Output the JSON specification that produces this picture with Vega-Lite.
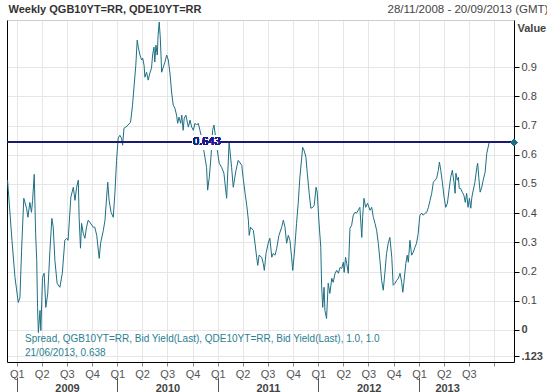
{
  "$schema": "https://vega.github.io/schema/vega-lite/v6.json",
  "autosize": {"type": "none"},
  "width": 507,
  "height": 342,
  "padding": {"left": 7, "top": 20, "right": 33, "bottom": 30},
  "background": "#ffffff",
  "config": {
    "view": {"stroke": null},
    "font": "Liberation Sans",
    "axis": {"labelFont": "Liberation Sans", "titleFont": "Liberation Sans"}
  },
  "data": {
    "values": [
      {"d": "2008-11-28", "v": 0.513}, {"d": "2008-12-14", "v": 0.307}, {"d": "2008-12-25", "v": 0.180},
      {"d": "2009-01-06", "v": 0.094}, {"d": "2009-01-12", "v": 0.111}, {"d": "2009-01-18", "v": 0.273},
      {"d": "2009-01-26", "v": 0.451}, {"d": "2009-02-05", "v": 0.417}, {"d": "2009-02-10", "v": 0.386},
      {"d": "2009-02-17", "v": 0.437}, {"d": "2009-02-23", "v": 0.403}, {"d": "2009-02-27", "v": 0.444},
      {"d": "2009-03-05", "v": 0.533}, {"d": "2009-03-10", "v": 0.331}, {"d": "2009-03-14", "v": 0.238},
      {"d": "2009-03-17", "v": 0.077}, {"d": "2009-03-20", "v": -0.009}, {"d": "2009-03-26", "v": 0.067},
      {"d": "2009-03-29", "v": -0.002}, {"d": "2009-04-04", "v": 0.180}, {"d": "2009-04-10", "v": 0.194},
      {"d": "2009-04-16", "v": 0.077}, {"d": "2009-04-23", "v": 0.125}, {"d": "2009-05-01", "v": 0.273},
      {"d": "2009-05-08", "v": 0.382}, {"d": "2009-05-13", "v": 0.352}, {"d": "2009-05-19", "v": 0.238},
      {"d": "2009-05-27", "v": 0.160}, {"d": "2009-06-06", "v": 0.146}, {"d": "2009-06-15", "v": 0.194},
      {"d": "2009-06-24", "v": 0.307}, {"d": "2009-07-01", "v": 0.314}, {"d": "2009-07-06", "v": 0.307},
      {"d": "2009-07-16", "v": 0.455}, {"d": "2009-07-25", "v": 0.489}, {"d": "2009-07-31", "v": 0.444},
      {"d": "2009-08-06", "v": 0.489}, {"d": "2009-08-12", "v": 0.513}, {"d": "2009-08-15", "v": 0.386},
      {"d": "2009-08-20", "v": 0.280}, {"d": "2009-08-24", "v": 0.365}, {"d": "2009-08-30", "v": 0.331},
      {"d": "2009-09-05", "v": 0.314}, {"d": "2009-09-11", "v": 0.352}, {"d": "2009-09-17", "v": 0.376},
      {"d": "2009-09-23", "v": 0.369}, {"d": "2009-10-05", "v": 0.352}, {"d": "2009-10-11", "v": 0.352},
      {"d": "2009-10-18", "v": 0.324}, {"d": "2009-10-27", "v": 0.245}, {"d": "2009-11-01", "v": 0.297},
      {"d": "2009-11-11", "v": 0.341}, {"d": "2009-11-17", "v": 0.376}, {"d": "2009-11-23", "v": 0.455},
      {"d": "2009-11-27", "v": 0.506}, {"d": "2009-12-02", "v": 0.444}, {"d": "2009-12-09", "v": 0.403},
      {"d": "2009-12-17", "v": 0.386}, {"d": "2009-12-23", "v": 0.468}, {"d": "2009-12-29", "v": 0.581},
      {"d": "2010-01-04", "v": 0.657}, {"d": "2010-01-10", "v": 0.667}, {"d": "2010-01-16", "v": 0.657},
      {"d": "2010-01-20", "v": 0.633}, {"d": "2010-01-25", "v": 0.691}, {"d": "2010-02-01", "v": 0.695},
      {"d": "2010-02-09", "v": 0.702}, {"d": "2010-02-18", "v": 0.712}, {"d": "2010-02-25", "v": 0.770},
      {"d": "2010-03-03", "v": 0.839}, {"d": "2010-03-09", "v": 0.907}, {"d": "2010-03-14", "v": 0.993},
      {"d": "2010-03-18", "v": 0.969}, {"d": "2010-03-24", "v": 0.942}, {"d": "2010-03-30", "v": 0.925},
      {"d": "2010-04-03", "v": 0.931}, {"d": "2010-04-08", "v": 0.907}, {"d": "2010-04-11", "v": 0.866},
      {"d": "2010-04-17", "v": 0.883}, {"d": "2010-04-23", "v": 0.856}, {"d": "2010-04-29", "v": 0.880},
      {"d": "2010-05-05", "v": 0.897}, {"d": "2010-05-09", "v": 0.942}, {"d": "2010-05-14", "v": 0.969},
      {"d": "2010-05-17", "v": 0.918}, {"d": "2010-05-21", "v": 0.976}, {"d": "2010-05-26", "v": 0.942},
      {"d": "2010-05-29", "v": 1.010}, {"d": "2010-06-02", "v": 1.055}, {"d": "2010-06-06", "v": 1.000},
      {"d": "2010-06-11", "v": 0.883}, {"d": "2010-06-17", "v": 0.901}, {"d": "2010-06-23", "v": 0.918},
      {"d": "2010-06-29", "v": 0.942}, {"d": "2010-07-05", "v": 0.925}, {"d": "2010-07-11", "v": 0.880},
      {"d": "2010-07-17", "v": 0.815}, {"d": "2010-07-23", "v": 0.770}, {"d": "2010-07-29", "v": 0.760},
      {"d": "2010-08-04", "v": 0.736}, {"d": "2010-08-08", "v": 0.708}, {"d": "2010-08-13", "v": 0.729},
      {"d": "2010-08-19", "v": 0.708}, {"d": "2010-08-23", "v": 0.736}, {"d": "2010-08-28", "v": 0.684},
      {"d": "2010-09-01", "v": 0.726}, {"d": "2010-09-07", "v": 0.736}, {"d": "2010-09-12", "v": 0.712},
      {"d": "2010-09-16", "v": 0.695}, {"d": "2010-09-22", "v": 0.719}, {"d": "2010-09-28", "v": 0.695},
      {"d": "2010-10-04", "v": 0.684}, {"d": "2010-10-10", "v": 0.708}, {"d": "2010-10-16", "v": 0.702},
      {"d": "2010-10-22", "v": 0.708}, {"d": "2010-10-28", "v": 0.684}, {"d": "2010-11-03", "v": 0.660},
      {"d": "2010-11-09", "v": 0.626}, {"d": "2010-11-15", "v": 0.592}, {"d": "2010-11-21", "v": 0.557},
      {"d": "2010-11-25", "v": 0.479}, {"d": "2010-12-01", "v": 0.523}, {"d": "2010-12-07", "v": 0.592},
      {"d": "2010-12-13", "v": 0.684}, {"d": "2010-12-18", "v": 0.702}, {"d": "2010-12-24", "v": 0.660},
      {"d": "2010-12-30", "v": 0.616}, {"d": "2011-01-06", "v": 0.571}, {"d": "2011-01-15", "v": 0.557},
      {"d": "2011-01-23", "v": 0.537}, {"d": "2011-02-02", "v": 0.451}, {"d": "2011-02-11", "v": 0.643},
      {"d": "2011-02-20", "v": 0.557}, {"d": "2011-02-26", "v": 0.489}, {"d": "2011-03-08", "v": 0.547},
      {"d": "2011-03-16", "v": 0.581}, {"d": "2011-03-29", "v": 0.564}, {"d": "2011-04-03", "v": 0.520},
      {"d": "2011-04-10", "v": 0.468}, {"d": "2011-04-16", "v": 0.427}, {"d": "2011-04-22", "v": 0.376},
      {"d": "2011-04-25", "v": 0.324}, {"d": "2011-04-30", "v": 0.352}, {"d": "2011-05-10", "v": 0.341},
      {"d": "2011-05-16", "v": 0.297}, {"d": "2011-05-22", "v": 0.249}, {"d": "2011-05-26", "v": 0.221},
      {"d": "2011-05-31", "v": 0.256}, {"d": "2011-06-09", "v": 0.249}, {"d": "2011-06-15", "v": 0.228},
      {"d": "2011-06-19", "v": 0.204}, {"d": "2011-06-25", "v": 0.262}, {"d": "2011-07-03", "v": 0.297},
      {"d": "2011-07-09", "v": 0.314}, {"d": "2011-07-16", "v": 0.249}, {"d": "2011-07-21", "v": 0.262},
      {"d": "2011-07-28", "v": 0.256}, {"d": "2011-08-03", "v": 0.280}, {"d": "2011-08-11", "v": 0.324},
      {"d": "2011-08-21", "v": 0.352}, {"d": "2011-08-27", "v": 0.376}, {"d": "2011-09-02", "v": 0.352},
      {"d": "2011-09-08", "v": 0.297}, {"d": "2011-09-14", "v": 0.324}, {"d": "2011-09-20", "v": 0.307},
      {"d": "2011-09-26", "v": 0.249}, {"d": "2011-09-30", "v": 0.204}, {"d": "2011-10-06", "v": 0.262},
      {"d": "2011-10-14", "v": 0.365}, {"d": "2011-10-20", "v": 0.434}, {"d": "2011-10-26", "v": 0.523},
      {"d": "2011-11-02", "v": 0.592}, {"d": "2011-11-05", "v": 0.626}, {"d": "2011-11-10", "v": 0.616},
      {"d": "2011-11-17", "v": 0.592}, {"d": "2011-11-22", "v": 0.537}, {"d": "2011-11-29", "v": 0.468},
      {"d": "2011-12-05", "v": 0.417}, {"d": "2011-12-12", "v": 0.420}, {"d": "2011-12-17", "v": 0.427},
      {"d": "2011-12-24", "v": 0.489}, {"d": "2011-12-28", "v": 0.472}, {"d": "2012-01-03", "v": 0.376},
      {"d": "2012-01-10", "v": 0.283}, {"d": "2012-01-13", "v": 0.153}, {"d": "2012-01-17", "v": 0.077},
      {"d": "2012-01-22", "v": 0.146}, {"d": "2012-01-25", "v": 0.067}, {"d": "2012-01-31", "v": 0.039},
      {"d": "2012-02-06", "v": 0.160}, {"d": "2012-02-12", "v": 0.125}, {"d": "2012-02-19", "v": 0.177},
      {"d": "2012-02-24", "v": 0.163}, {"d": "2012-03-02", "v": 0.194}, {"d": "2012-03-08", "v": 0.204},
      {"d": "2012-03-14", "v": 0.194}, {"d": "2012-03-20", "v": 0.214}, {"d": "2012-03-26", "v": 0.211},
      {"d": "2012-04-01", "v": 0.232}, {"d": "2012-04-04", "v": 0.197}, {"d": "2012-04-09", "v": 0.249},
      {"d": "2012-04-13", "v": 0.228}, {"d": "2012-04-19", "v": 0.194}, {"d": "2012-04-25", "v": 0.348},
      {"d": "2012-05-01", "v": 0.358}, {"d": "2012-05-07", "v": 0.393}, {"d": "2012-05-13", "v": 0.403},
      {"d": "2012-05-19", "v": 0.400}, {"d": "2012-05-25", "v": 0.410}, {"d": "2012-05-31", "v": 0.420},
      {"d": "2012-06-07", "v": 0.317}, {"d": "2012-06-10", "v": 0.386}, {"d": "2012-06-15", "v": 0.451},
      {"d": "2012-06-21", "v": 0.420}, {"d": "2012-06-28", "v": 0.434}, {"d": "2012-07-07", "v": 0.410},
      {"d": "2012-07-13", "v": 0.420}, {"d": "2012-07-19", "v": 0.386}, {"d": "2012-07-25", "v": 0.365},
      {"d": "2012-07-31", "v": 0.341}, {"d": "2012-08-06", "v": 0.297}, {"d": "2012-08-12", "v": 0.238},
      {"d": "2012-08-18", "v": 0.170}, {"d": "2012-08-24", "v": 0.136}, {"d": "2012-08-30", "v": 0.197},
      {"d": "2012-09-05", "v": 0.262}, {"d": "2012-09-11", "v": 0.297}, {"d": "2012-09-17", "v": 0.317},
      {"d": "2012-09-24", "v": 0.249}, {"d": "2012-09-29", "v": 0.153}, {"d": "2012-10-06", "v": 0.160},
      {"d": "2012-10-12", "v": 0.170}, {"d": "2012-10-18", "v": 0.177}, {"d": "2012-10-24", "v": 0.194},
      {"d": "2012-10-30", "v": 0.163}, {"d": "2012-11-03", "v": 0.129}, {"d": "2012-11-07", "v": 0.163},
      {"d": "2012-11-14", "v": 0.228}, {"d": "2012-11-19", "v": 0.256}, {"d": "2012-11-23", "v": 0.232},
      {"d": "2012-11-29", "v": 0.307}, {"d": "2012-12-05", "v": 0.256}, {"d": "2012-12-11", "v": 0.266},
      {"d": "2012-12-17", "v": 0.283}, {"d": "2012-12-23", "v": 0.297}, {"d": "2012-12-29", "v": 0.331},
      {"d": "2013-01-04", "v": 0.393}, {"d": "2013-01-11", "v": 0.400}, {"d": "2013-01-16", "v": 0.393},
      {"d": "2013-01-23", "v": 0.400}, {"d": "2013-01-29", "v": 0.403}, {"d": "2013-02-04", "v": 0.420},
      {"d": "2013-02-10", "v": 0.444}, {"d": "2013-02-16", "v": 0.468}, {"d": "2013-02-22", "v": 0.506},
      {"d": "2013-02-28", "v": 0.513}, {"d": "2013-03-06", "v": 0.520}, {"d": "2013-03-12", "v": 0.547},
      {"d": "2013-03-16", "v": 0.575}, {"d": "2013-03-21", "v": 0.547}, {"d": "2013-03-27", "v": 0.503},
      {"d": "2013-04-02", "v": 0.455}, {"d": "2013-04-08", "v": 0.420}, {"d": "2013-04-14", "v": 0.434},
      {"d": "2013-04-20", "v": 0.479}, {"d": "2013-04-26", "v": 0.523}, {"d": "2013-05-02", "v": 0.547},
      {"d": "2013-05-08", "v": 0.506}, {"d": "2013-05-12", "v": 0.468}, {"d": "2013-05-15", "v": 0.537},
      {"d": "2013-05-20", "v": 0.513}, {"d": "2013-05-24", "v": 0.523}, {"d": "2013-05-27", "v": 0.485},
      {"d": "2013-06-01", "v": 0.485}, {"d": "2013-06-07", "v": 0.472}, {"d": "2013-06-13", "v": 0.461},
      {"d": "2013-06-18", "v": 0.437}, {"d": "2013-06-23", "v": 0.468}, {"d": "2013-06-28", "v": 0.420},
      {"d": "2013-07-03", "v": 0.451}, {"d": "2013-07-08", "v": 0.417}, {"d": "2013-07-12", "v": 0.455},
      {"d": "2013-07-17", "v": 0.479}, {"d": "2013-07-23", "v": 0.506}, {"d": "2013-07-30", "v": 0.557},
      {"d": "2013-08-02", "v": 0.571}, {"d": "2013-08-06", "v": 0.523}, {"d": "2013-08-11", "v": 0.472},
      {"d": "2013-08-17", "v": 0.489}, {"d": "2013-08-22", "v": 0.513}, {"d": "2013-08-29", "v": 0.540},
      {"d": "2013-09-04", "v": 0.605}, {"d": "2013-09-13", "v": 0.643}
    ]
  },
  "resolve": {"axis": {"x": "independent", "y": "independent"}},
  "layer": [
    {
      "mark": {"type": "line", "strokeWidth": 1, "interpolate": "linear"},
      "encoding": {
        "x": {
          "field": "d", "type": "temporal",
          "scale": {"domain": [{"year": 2008, "month": 11, "date": 26}, {"year": 2013, "month": 12, "date": 12}]},
          "axis": {
            "orient": "bottom", "title": null,
            "tickCount": {"interval": "month", "step": 3},
            "labelExpr": "datum.value > datetime(2013, 8, 1) ? '' : 'Q' + quarter(datum.value)",
            "labelFontSize": 11, "labelColor": "#555555", "labelPadding": 2, "labelFlush": false, "labelOverlap": false,
            "tickSize": 4, "tickColor": "#888888",
            "domainColor": "#000000", "domainWidth": 1,
            "grid": true, "gridColor": "#e6e6e6"
          }
        },
        "y": {
          "field": "v", "type": "quantitative",
          "scale": {"domain": [-0.11, 1.062], "nice": false, "zero": false},
          "axis": {
            "orient": "right",
            "values": [-0.091, 0, 0.1, 0.2, 0.3, 0.4, 0.5, 0.6, 0.7, 0.8, 0.9],
            "labelExpr": "datum.value < -0.05 ? '.123' : datum.value == 0 ? '0' : format(datum.value, '.1f')",
            "labelFontWeight": {"condition": {"test": "datum.value <= 0", "value": "bold"}, "value": "normal"},
            "labelFontSize": 11, "labelColor": "#444444", "labelPadding": 2,
            "tickSize": 5, "tickColor": "#000000",
            "domainColor": "#000000",
            "grid": true, "gridColor": "#e6e6e6",
            "title": "Value", "titleAngle": 0, "titleAlign": "left", "titleBaseline": "middle",
            "titleX": 3, "titleY": 8, "titleFontSize": 11, "titleFontWeight": "bold", "titleColor": "#444444"
          }
        },
        "color": {
          "datum": "Spread, QGB10YT=RR, Bid Yield(Last), QDE10YT=RR, Bid Yield(Last),  1.0, 1.0",
          "type": "nominal",
          "scale": {
            "domain": ["Spread, QGB10YT=RR, Bid Yield(Last), QDE10YT=RR, Bid Yield(Last),  1.0, 1.0", "21/06/2013, 0.638"],
            "range": ["#1e6f84", "#1e6f84"]
          },
          "legend": {
            "orient": "none", "legendX": 8, "legendY": 314, "title": null,
            "symbolType": "circle", "symbolSize": 0, "symbolOpacity": 0, "symbolStrokeWidth": 0,
            "labelOffset": 0, "labelFontSize": 10, "labelColor": "#2a7f91", "labelLimit": 0,
            "rowPadding": 4, "padding": 0
          }
        }
      }
    },
    {
      "mark": {"type": "rect", "color": "#ffffff", "opacity": 1},
      "encoding": {
        "x": {"datum": {"year": 2010, "month": 10, "date": 1}, "type": "temporal", "axis": null},
        "x2": {"datum": {"year": 2011, "month": 1, "date": 12}},
        "y": {"datum": 0.618, "type": "quantitative", "axis": null},
        "y2": {"datum": 0.666}
      }
    },
    {
      "mark": {"type": "rule", "color": "#1a1a72", "strokeWidth": 1},
      "encoding": {
        "x": {"datum": {"year": 2008, "month": 11, "date": 26}, "type": "temporal", "axis": null},
        "x2": {"datum": {"year": 2010, "month": 9, "date": 28}},
        "y": {"datum": 0.643, "type": "quantitative",
          "axis": {"orient": "left", "labels": false, "ticks": false, "grid": false, "title": null, "domainColor": "#000000"}}
      }
    },
    {
      "mark": {"type": "rule", "color": "#1a1a72", "strokeWidth": 1},
      "encoding": {
        "x": {"datum": {"year": 2011, "month": 1, "date": 16}, "type": "temporal", "axis": null},
        "x2": {"datum": {"year": 2013, "month": 12, "date": 12}},
        "y": {"datum": 0.643, "type": "quantitative", "axis": null}
      }
    },
    {
      "mark": {"type": "text", "color": "#1a1a8c", "fontSize": 11, "baseline": "middle", "align": "center"},
      "encoding": {
        "x": {"datum": {"year": 2010, "month": 11, "date": 22}, "type": "temporal", "axis": null},
        "y": {"datum": 0.643, "type": "quantitative", "axis": null},
        "text": {"value": "0.643"}
      }
    },
    {
      "mark": {"type": "point", "shape": "diamond", "filled": true, "color": "#1e6f84", "opacity": 1, "size": 45},
      "encoding": {
        "x": {"datum": {"year": 2013, "month": 12, "date": 12}, "type": "temporal",
          "axis": {"orient": "top", "labels": false, "ticks": false, "grid": false, "domainColor": "#cccccc",
            "title": "28/11/2008 - 20/09/2013 (GMT)", "titleX": 380, "titleY": -11, "titleAlign": "left",
            "titleBaseline": "middle", "titleAnchor": "start", "titleFontSize": 11.5, "titleFontWeight": "normal", "titleColor": "#444444"}},
        "y": {"datum": 0.643, "type": "quantitative", "axis": null}
      }
    },
    {
      "mark": {"type": "point", "opacity": 0},
      "encoding": {
        "x": {"datum": {"year": 2010, "month": 1, "date": 1}, "type": "temporal",
          "axis": {"orient": "top", "labels": false, "ticks": false, "grid": false, "domain": false,
            "title": "Weekly QGB10YT=RR, QDE10YT=RR", "titleX": 1, "titleY": -11, "titleAlign": "left",
            "titleBaseline": "middle", "titleAnchor": "start", "titleFontSize": 11, "titleFontWeight": "bold", "titleColor": "#333333"}}
      }
    },
    {
      "mark": {"type": "point", "opacity": 0},
      "encoding": {
        "x": {"datum": {"year": 2009, "month": 7, "date": 2}, "type": "temporal",
          "axis": {"orient": "bottom", "offset": 20, "title": null, "ticks": false, "domain": false, "grid": false,
            "values": [{"year": 2009, "month": 7, "date": 2}, {"year": 2010, "month": 7, "date": 2}, {"year": 2011, "month": 7, "date": 2}, {"year": 2012, "month": 7, "date": 2}, {"year": 2013, "month": 4, "date": 13}],
            "format": "%Y", "labelPadding": 0, "labelBaseline": "top", "labelFontSize": 11, "labelFontWeight": "bold",
            "labelColor": "#444444", "labelFlush": false, "labelOverlap": false}}
      }
    },
    {
      "mark": {"type": "point", "opacity": 0},
      "encoding": {
        "x": {"datum": {"year": 2010, "month": 1, "date": 1}, "type": "temporal",
          "axis": {"orient": "bottom", "offset": 15, "title": null, "labels": false, "domain": false, "grid": false,
            "values": [{"year": 2009, "month": 1, "date": 1}, {"year": 2010, "month": 1, "date": 1}, {"year": 2011, "month": 1, "date": 1}, {"year": 2012, "month": 1, "date": 1}, {"year": 2013, "month": 1, "date": 1}],
            "tickSize": 16, "tickColor": "#555555"}}
      }
    }
  ]
}
